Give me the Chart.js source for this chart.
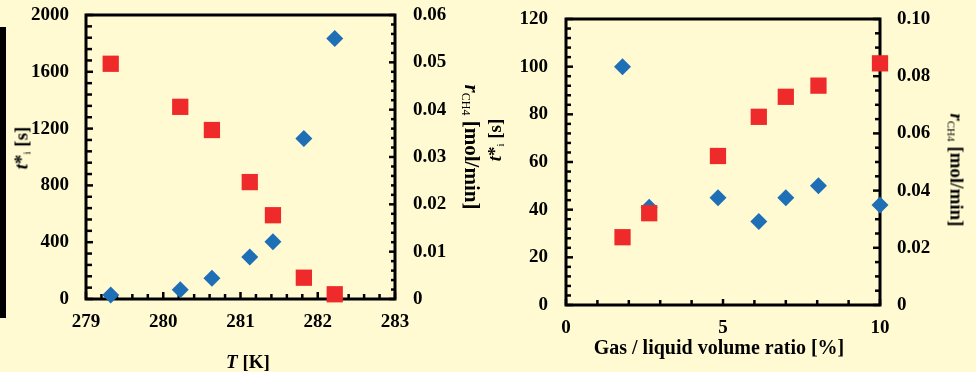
<!DOCTYPE html>
<html>
<head>
<meta charset="utf-8">
<script src="https://cdn.jsdelivr.net/npm/chart.js@4.4.0/dist/chart.umd.min.js"></script>
<style>
  html, body { margin: 0; padding: 0; }
  body {
    width: 976px; height: 372px; position: relative; overflow: hidden;
    background: #FFFAD2; color: #000;
    font-family: 'Liberation Serif', 'Times New Roman', serif; font-weight: bold;
  }
  .box { position: absolute; top: 0; width: 488px; height: 372px; }
  .ttl { position: absolute; white-space: nowrap; font-size: 19px; line-height: 1; transform: translate(-50%, -50%); }
  .up { transform: translate(-50%, -50%) rotate(-90deg); }
  .down { transform: translate(-50%, -50%) rotate(90deg); }
  .ttl sub { font-size: 11px; font-weight: normal; vertical-align: -3px; }
  #edge { position: absolute; left: 0; top: 27px; width: 6px; height: 291px; background: #000; }
</style>
</head>
<body>
<div id="edge"></div>
<div class="box" style="left:0"><canvas id="tempChart" width="488" height="372"></canvas></div>
<div class="box" style="left:488px"><canvas id="ratioChart" width="488" height="372"></canvas></div>

<div class="ttl" style="left:248px;top:361px"><i>T</i> [K]</div>
<div class="ttl up" style="left:22px;top:148px"><i>t</i>*<sub>i</sub> [s]</div>
<div class="ttl down" style="left:471px;top:147px;font-size:21px"><i>r</i><sub style="font-size:12px">CH4</sub> [mol/min]</div>

<div class="ttl" style="left:719px;top:347px;font-size:20px">Gas / liquid volume ratio [%]</div>
<div class="ttl up" style="left:495px;top:140px"><i>t</i>*<sub>i</sub> [s]</div>
<div class="ttl down" style="left:956px;top:170px"><i>r</i><sub>CH4</sub> [mol/min]</div>

<script>
// left panel: temperature
const tempK = [279.32, 280.22, 280.63, 281.12, 281.42, 281.82, 282.22];
const inductionT = [28, 65, 146, 295, 403, 1130, 1835];
const rateT = [0.0497, 0.0406, 0.0357, 0.0247, 0.0177, 0.0045, 0.0010];
const tempTicks = [279, 280, 281, 282, 283];
const timeTicksT = [0, 400, 800, 1200, 1600, 2000];
const rateTicksT = [0, 0.01, 0.02, 0.03, 0.04, 0.05, 0.06];

// right panel: gas / liquid volume ratio
const gasRatio = [1.80, 2.65, 4.84, 6.14, 7.00, 8.04, 10.0];
const inductionG = [100, 41, 45, 35, 45, 50, 42];
const rateG = [0.0237, 0.0321, 0.0521, 0.0658, 0.0728, 0.0767, 0.0845];
const ratioTicks = [0, 5, 10];
const timeTicksG = [0, 20, 40, 60, 80, 100, 120];
const rateTicksG = [0, 0.02, 0.04, 0.06, 0.08, 0.10];

const RED = '#EE2A2A';
const BLUE = '#1E6FB6';
const tickFont = { family: "'Liberation Serif', 'Times New Roman', serif", size: 19, weight: 'bold' };

function pairs(xs, ys) {
  return xs.map((x, i) => ({ x: x, y: ys[i] }));
}

function fmtRate(v) {
  return v === 0 ? '0' : v.toFixed(2);
}

function axis(position, ticks, size, pad, fmt) {
  return {
    type: 'linear',
    position: position,
    min: ticks[0],
    max: ticks[ticks.length - 1],
    grid: { display: false, drawTicks: false },
    border: { display: false },
    afterBuildTicks: s => { s.ticks = ticks.map(v => ({ value: v })); },
    afterFit: s => {
      if (position === 'bottom') s.height = size; else s.width = size;
      // fixed box sizes; no extra room for overhanging labels
      s.paddingTop = 0; s.paddingBottom = 0; s.paddingLeft = 0; s.paddingRight = 0;
    },
    ticks: {
      color: '#000',
      font: tickFont,
      padding: pad,
      maxRotation: 0,
      autoSkip: false,
      callback: fmt || (v => String(v))
    }
  };
}

// frame + inward tick marks, drawn under the markers
function framePlugin(spec) {
  return {
    id: 'frame',
    beforeDatasetsDraw(chart) {
      const ctx = chart.ctx;
      const a = chart.chartArea;
      ctx.save();
      ctx.strokeStyle = '#000';
      ctx.lineWidth = 2.5;
      spec.forEach(s => {
        const sc = chart.scales[s.id];
        const n = Math.round((sc.max - sc.min) / s.minor);
        for (let i = 0; i <= n; i++) {
          const v = sc.min + i * s.minor;
          const q = v / s.major;
          const len = Math.abs(q - Math.round(q)) < 1e-6 ? s.majorLen : s.minorLen;
          const p = sc.getPixelForValue(v);
          ctx.beginPath();
          if (s.id === 'x') {
            ctx.moveTo(p, a.bottom); ctx.lineTo(p, a.bottom - len);
          } else if (s.id === 'y') {
            ctx.moveTo(a.left, p); ctx.lineTo(a.left + len, p);
          } else {
            ctx.moveTo(a.right, p); ctx.lineTo(a.right - len, p);
          }
          ctx.stroke();
        }
      });
      ctx.lineWidth = 3;
      ctx.strokeRect(a.left, a.top, a.right - a.left, a.bottom - a.top);
      ctx.restore();
    }
  };
}

function datasets(xs, tVals, rVals) {
  return [{
    label: 'r CH4',
    data: pairs(xs, rVals),
    yAxisID: 'y2',
    pointStyle: 'rect',
    pointRadius: 11.5,
    pointHoverRadius: 11.5,
    backgroundColor: RED,
    borderWidth: 0,
    clip: false
  }, {
    label: 't*i',
    data: pairs(xs, tVals),
    yAxisID: 'y',
    pointStyle: 'rectRot',
    pointRadius: 8.5,
    pointHoverRadius: 8.5,
    backgroundColor: BLUE,
    borderWidth: 0,
    clip: false
  }];
}

const baseOptions = {
  responsive: false,
  animation: false,
  events: [],
  plugins: { legend: { display: false }, tooltip: { enabled: false } }
};

const tempChart = new Chart(document.getElementById('tempChart'), {
  type: 'scatter',
  data: { datasets: datasets(tempK, inductionT, rateT) },
  options: Object.assign({}, baseOptions, {
    layout: { padding: { top: 15, left: 0, right: 0, bottom: 0 } },
    scales: {
      x: axis('bottom', tempTicks, 73, 12),
      y: axis('left', timeTicksT, 86, 17),
      y2: axis('right', rateTicksT, 93, 18, fmtRate)
    }
  }),
  plugins: [framePlugin([
    { id: 'x', minor: 0.2, major: 1, minorLen: 5, majorLen: 7 },
    { id: 'y', minor: 80, major: 400, minorLen: 6, majorLen: 7 },
    { id: 'y2', minor: 0.002, major: 0.01, minorLen: 4, majorLen: 6 }
  ])]
});

const ratioChart = new Chart(document.getElementById('ratioChart'), {
  type: 'scatter',
  data: { datasets: datasets(gasRatio, inductionG, rateG) },
  options: Object.assign({}, baseOptions, {
    layout: { padding: { top: 19, left: 0, right: 0, bottom: 0 } },
    scales: {
      x: axis('bottom', ratioTicks, 67, 12),
      y: axis('left', timeTicksG, 78, 18),
      y2: axis('right', rateTicksG, 96, 17, fmtRate)
    }
  }),
  plugins: [framePlugin([
    { id: 'x', minor: 1, major: 5, minorLen: 5, majorLen: 6 },
    { id: 'y', minor: 4, major: 20, minorLen: 5, majorLen: 7 },
    { id: 'y2', minor: 0.005, major: 0.02, minorLen: 5, majorLen: 7 }
  ])]
});
</script>
</body>
</html>
